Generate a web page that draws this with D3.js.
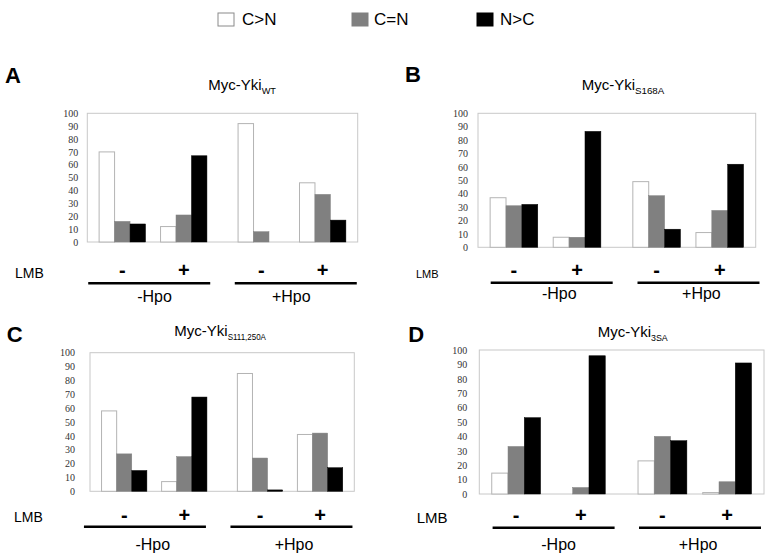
<!DOCTYPE html>
<html><head><meta charset="utf-8">
<script src="https://cdn.jsdelivr.net/npm/d3@7"></script>
<style>body{margin:0;background:#fff}svg{display:block}</style>
</head><body>
<svg id="chart" width="771" height="557"></svg>
<script>
// ---------- data ----------
const seriesNames = ["C>N", "C=N", "N>C"];
const hpoGroups = ["-Hpo", "+Hpo"];
const lmbGroups = ["-", "+"];
const panelLetters = ["A", "B", "C", "D"];
const titleMain = "Myc-Yki";
const titleSubs = ["WT", "S168A", "S111,250A", "3SA"];
const yTicks = [0, 10, 20, 30, 40, 50, 60, 70, 80, 90, 100];
// order of values: (-Hpo,-LMB), (-Hpo,+LMB), (+Hpo,-LMB), (+Hpo,+LMB)
const A_CgtN = [70, 12, 92, 46];
const A_CeqN = [16, 21, 8, 37];
const A_NgtC = [14, 67, 0, 17];
const B_CgtN = [37, 7.5, 49, 11];
const B_CeqN = [31, 7.5, 38.5, 27.5];
const B_NgtC = [32, 86.5, 13.5, 62];
const C_CgtN = [58, 7, 85, 41];
const C_CeqN = [27, 25, 24, 42];
const C_NgtC = [15, 68, 1, 17];
const D_CgtN = [14.5, 0, 23, 1];
const D_CeqN = [33, 4.5, 40, 8.5];
const D_NgtC = [53, 96, 37, 91];
const panelValues = [
  [A_CgtN, A_CeqN, A_NgtC],
  [B_CgtN, B_CeqN, B_NgtC],
  [C_CgtN, C_CeqN, C_NgtC],
  [D_CgtN, D_CeqN, D_NgtC]
];

// ---------- layout / style ----------
const fills = ["#ffffff", "#808080", "#000000"];
const strokes = ["#b4b4b4", "#808080", "#000000"];
const layout = [
  {x0: 87.3, x1: 357.7, top: 113.3, zero: 242, letter: [5, 83.3], title: [208.3, 90], subW: 14.3,
   tickPad: 9, lmb: [15, 278, 14], signY: 277.3, lineY: 283.3, hpoY: 302, lineShift: [-3.8, 3.8], labelShift: [1.5, -0.7]},
  {x0: 478, x1: 755.7, top: 113.3, zero: 247.3, letter: [405, 81.7], title: [581.7, 90], subW: 29.3,
   tickPad: 10, lmb: [416, 278, 11], signY: 277.3, lineY: 282.7, hpoY: 298.5, lineShift: [6.2, 10.3], labelShift: [13.8, 13.2]},
  {x0: 90, x1: 354.3, top: 352.7, zero: 491.3, letter: [6.7, 341.7], title: [174.3, 336], subW: 38.3,
   tickPad: 15, lmb: [14, 521.7, 14], signY: 521.6, lineY: 526.7, hpoY: 550, lineShift: [-9.3, 1.4], labelShift: [-1.5, 4]},
  {x0: 479.3, x1: 764, top: 350, zero: 494, letter: [408.3, 341.7], title: [597.7, 336.7], subW: 16.7,
   tickPad: 12, lmb: [416.7, 522.7, 15], signY: 522, lineY: 527.7, hpoY: 550, lineShift: [5.1, 5.2], labelShift: [10.1, 3.3]}
];
const sans = "'Liberation Sans', Arial, sans-serif";
const serif = "'Liberation Serif', 'Times New Roman', serif";

const svg = d3.select("#chart");

// ---------- legend ----------
const legendBoxX = [218, 352, 477];
const legendTextX = [242, 374, 500];
const legend = svg.append("g");
seriesNames.forEach((name, i) => {
  legend.append("rect").attr("x", legendBoxX[i]).attr("y", 13).attr("width", 16).attr("height", 13)
    .attr("fill", fills[i]).attr("stroke", i === 0 ? "#8a8a8a" : strokes[i]).attr("stroke-width", 1);
  legend.append("text").attr("x", legendTextX[i]).attr("y", 25).text(name)
    .attr("font-family", sans).attr("font-size", 17).attr("fill", "#000");
});

// ---------- panels ----------
panelLetters.forEach((letter, p) => {
  const L = layout[p];
  const vals = panelValues[p];
  const g = svg.append("g");

  const y = d3.scaleLinear().domain([0, 100]).range([L.zero, L.top]);
  const xHpo = d3.scaleBand().domain(hpoGroups).range([L.x0, L.x1]).paddingInner(0.224).paddingOuter(0.085);
  const xLmb = d3.scaleBand().domain(lmbGroups).range([0, xHpo.bandwidth()]).paddingInner(0.245).paddingOuter(0);
  const xSer = d3.scaleBand().domain(seriesNames).range([0, xLmb.bandwidth()]).padding(0);

  // panel letter
  g.append("text").attr("x", L.letter[0]).attr("y", L.letter[1]).text(letter)
    .attr("font-family", sans).attr("font-weight", "bold").attr("font-size", 22).attr("fill", "#000");

  // title
  const t = g.append("text").attr("x", L.title[0]).attr("y", L.title[1])
    .attr("font-family", sans).attr("font-size", 15).attr("fill", "#000");
  t.append("tspan").text(titleMain);
  t.append("tspan").attr("dy", 4).attr("font-size", 9.5).attr("textLength", L.subW)
    .attr("lengthAdjust", "spacingAndGlyphs").text(titleSubs[p]);

  // frame
  g.append("rect").attr("x", L.x0).attr("y", L.top).attr("width", L.x1 - L.x0).attr("height", L.zero - L.top)
    .attr("fill", "none").attr("stroke", "#c8c8c8").attr("stroke-width", 1);

  // y axis
  const ax = g.append("g").attr("transform", `translate(${L.x0},0)`)
    .call(d3.axisLeft(y).tickValues(yTicks).tickSize(0).tickPadding(L.tickPad));
  ax.select(".domain").remove();
  ax.selectAll("text").attr("font-family", serif).attr("font-size", 10).attr("fill", "#333");

  // bars
  const rows = [];
  hpoGroups.forEach((h, hi) => lmbGroups.forEach((l, li) => {
    seriesNames.forEach((s, si) => rows.push({h, l, s, si, v: vals[si][hi * 2 + li]}));
  }));
  g.selectAll("rect.bar").data(rows).join("rect").attr("class", "bar")
    .attr("x", d => xHpo(d.h) + xLmb(d.l) + xSer(d.s))
    .attr("y", d => y(d.v))
    .attr("width", xSer.bandwidth())
    .attr("height", d => y(0) - y(d.v))
    .attr("fill", d => fills[d.si])
    .attr("stroke", d => d.v > 0 ? strokes[d.si] : "none")
    .attr("stroke-width", d => d.si === 0 ? 1 : 0.5);

  // LMB row
  g.append("text").attr("x", L.lmb[0]).attr("y", L.lmb[1]).text("LMB")
    .attr("font-family", sans).attr("font-size", L.lmb[2]).attr("fill", "#000");
  hpoGroups.forEach((h, hi) => {
    lmbGroups.forEach(l => {
      g.append("text").attr("x", xHpo(h) + xLmb(l) + xLmb.bandwidth() / 2).attr("y", L.signY)
        .attr("text-anchor", "middle").text(l)
        .attr("font-family", sans).attr("font-weight", "bold").attr("font-size", 20).attr("fill", "#000");
    });
    const c = xHpo(h) + xHpo.bandwidth() / 2;
    g.append("line").attr("x1", c + L.lineShift[hi] - 61).attr("x2", c + L.lineShift[hi] + 61)
      .attr("y1", L.lineY).attr("y2", L.lineY).attr("stroke", "#000").attr("stroke-width", 2.5);
    g.append("text").attr("x", c + L.labelShift[hi]).attr("y", L.hpoY).attr("text-anchor", "middle")
      .text(h).attr("font-family", sans).attr("font-size", 16).attr("fill", "#000");
  });
});
</script>
</body></html>
